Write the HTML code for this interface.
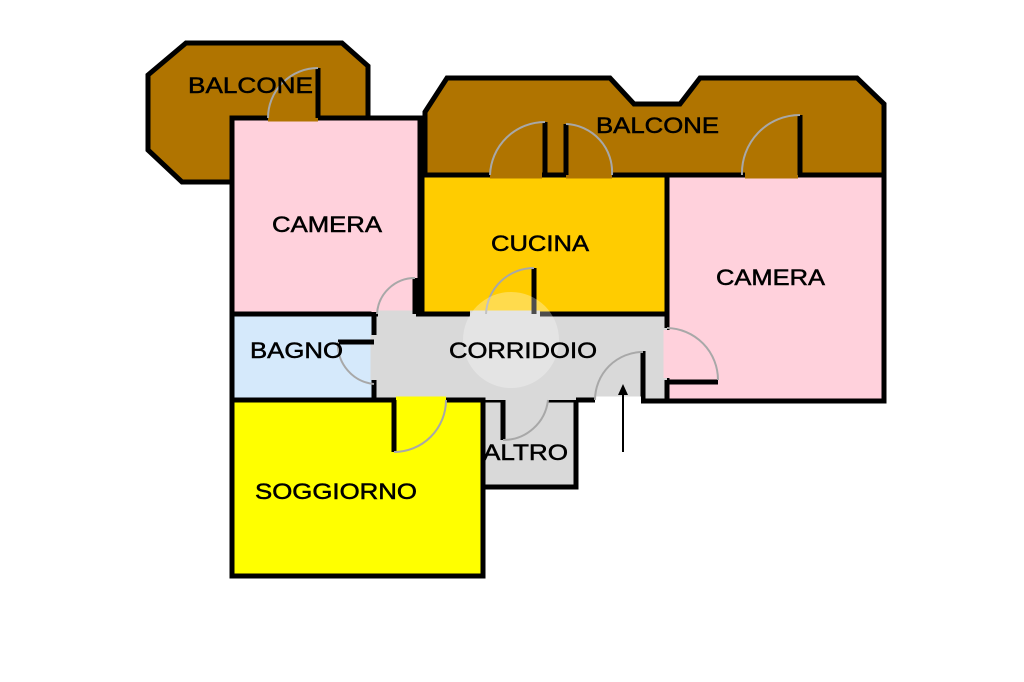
<!DOCTYPE html>
<html><head><meta charset="utf-8"><style>
html,body{margin:0;padding:0;background:#fff;}
svg{display:block;}
text{font-family:"Liberation Sans",sans-serif;font-size:22px;fill:#000;stroke:#000;stroke-width:0.5;}
</style></head><body>
<svg width="1024" height="682" viewBox="0 0 1024 682" xmlns="http://www.w3.org/2000/svg">
<rect width="1024" height="682" fill="#fff"/>
<polygon points="148,75 186,43 342,43 368,66 368,118 232,118 232,182 182,182 148,150" fill="#b07400" stroke="#000" stroke-width="5" stroke-linejoin="miter"/>
<polygon points="425,112 447,78 610,78 634,104 680,104 700,78 857,78 884,104 884,175 425,175" fill="#b07400" stroke="#000" stroke-width="5"/>
<rect x="232" y="118" width="188" height="196" fill="#ffd1dc" stroke="#000" stroke-width="5"/>
<rect x="422" y="175" width="245" height="139" fill="#ffcc00" stroke="#000" stroke-width="5"/>
<rect x="667" y="175" width="217" height="226" fill="#ffd1dc" stroke="#000" stroke-width="5"/>
<rect x="483" y="400" width="93" height="87" fill="#d9d9d9" stroke="#000" stroke-width="5"/>
<rect x="374" y="314" width="293" height="86" fill="#d9d9d9"/>
<rect x="232" y="314" width="142" height="86" fill="#d5e9fb" stroke="#000" stroke-width="5"/>
<rect x="232" y="400" width="251" height="176" fill="#ffff00" stroke="#000" stroke-width="5"/>
<path d="M374,314 H667 M667,175 V328 M667,380 V401 M643,351 V401 H884 M576,400 H595" stroke="#000" stroke-width="5" fill="none"/>
<g stroke-width="7" fill="none">
<path d="M375,290 V312" stroke="#ffd1dc"/>
<path d="M268,118 H318" stroke="#b07400"/>
<path d="M490,175 H542 M566,175 H612" stroke="#b07400"/>
<path d="M745,175 H798" stroke="#b07400"/>
<path d="M378,314 H416" stroke="#d9d9d9"/>
<path d="M470,314 H540" stroke="#d9d9d9"/>
<path d="M667,330 V378" stroke="#ffd1dc"/>
<path d="M596,400 H641" stroke="#fff"/>
<path d="M374,335 V380" stroke="#d9d9d9"/>
<path d="M396,400 H446" stroke="#ffff00"/>
<path d="M502,400 H548" stroke="#d9d9d9"/>
</g>
<g stroke="#000" stroke-width="5" fill="none">
<path d="M318,68 V118"/>
<path d="M545,122 V175 M566,124 V175"/>
<path d="M800,115 V175"/>
<path d="M415,278 V314"/>
<path d="M534,268 V314"/>
<path d="M667,382 H718"/>
<path d="M374,342 H338"/>
<path d="M394,400 V452"/>
<path d="M503,400 V440"/>
</g>
<g stroke="#a8a8a8" stroke-width="2" fill="none">
<path d="M318,68 A50,50 0 0 0 268,118"/>
<path d="M545,122 A55,55 0 0 0 490,175"/>
<path d="M566,124 A48,48 0 0 1 612,175"/>
<path d="M800,115 A58,58 0 0 0 742,175"/>
<path d="M415,278 A38,38 0 0 0 377,314"/>
<path d="M534,268 A48,48 0 0 0 486,314"/>
<path d="M667,328 A52,52 0 0 1 718,380"/>
<path d="M643,352 A48,48 0 0 0 595,400"/>
<path d="M338,342 A40,40 0 0 0 374,384"/>
<path d="M394,452 A52,52 0 0 0 446,400"/>
<path d="M503,440 A45,45 0 0 0 548,400"/>
</g>
<circle cx="511" cy="340" r="48" fill="#fff" fill-opacity="0.3"/>
<path d="M623,452 V392" stroke="#000" stroke-width="2"/>
<polygon points="623,384 618,395 628,395" fill="#000"/>
<text x="188" y="93" textLength="125" lengthAdjust="spacingAndGlyphs">BALCONE</text>
<text x="596" y="133" textLength="123" lengthAdjust="spacingAndGlyphs">BALCONE</text>
<text x="272" y="232" textLength="110" lengthAdjust="spacingAndGlyphs">CAMERA</text>
<text x="491" y="251" textLength="98" lengthAdjust="spacingAndGlyphs">CUCINA</text>
<text x="716" y="285" textLength="109" lengthAdjust="spacingAndGlyphs">CAMERA</text>
<text x="250" y="358" textLength="93" lengthAdjust="spacingAndGlyphs">BAGNO</text>
<text x="449" y="358" textLength="148" lengthAdjust="spacingAndGlyphs">CORRIDOIO</text>
<text x="483" y="460" textLength="85" lengthAdjust="spacingAndGlyphs">ALTRO</text>
<text x="255" y="499" textLength="162" lengthAdjust="spacingAndGlyphs">SOGGIORNO</text>
</svg>
</body></html>
